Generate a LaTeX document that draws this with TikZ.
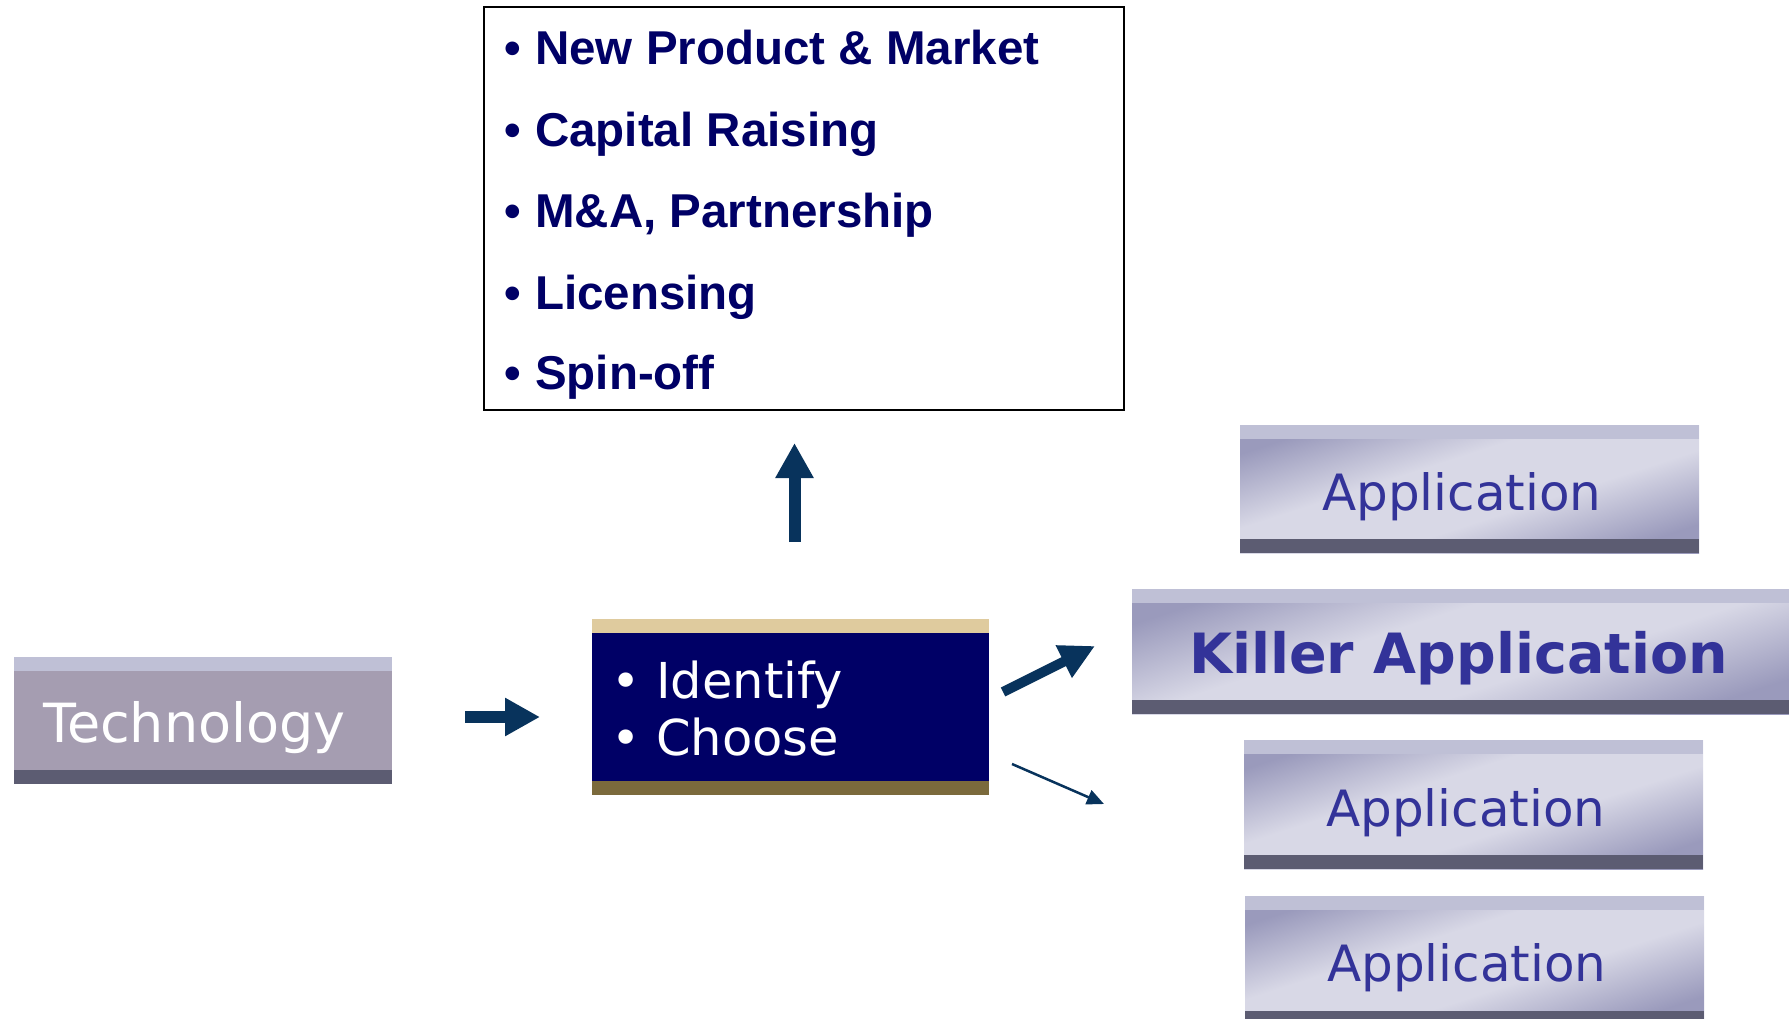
\documentclass[tikz,border=0pt]{standalone}
\usepackage{fontspec}
\setmainfont{DejaVu Sans}
\newfontfamily\listfont{Liberation Sans}
\usetikzlibrary{calc,arrows.meta}
\definecolor{navy}{HTML}{000066}
\definecolor{ink}{HTML}{333399}
\definecolor{arrowblue}{HTML}{08335C}
\definecolor{barlight}{HTML}{BFC0D6}
\definecolor{bardark}{HTML}{5C5C72}
\definecolor{techbody}{HTML}{A59DB1}
\definecolor{tan}{HTML}{DFCB9E}
\definecolor{bronze}{HTML}{7B6A3C}
\definecolor{applight}{HTML}{D8D8E6}
\definecolor{appdark}{HTML}{9A9ABC}
\pgfdeclareverticalshading{appshade}{100bp}{color(0bp)=(appdark); color(25bp)=(appdark); color(42bp)=(applight); color(58bp)=(applight); color(75bp)=(appdark); color(100bp)=(appdark)}
\tikzset{
  panel/.style 2 args={draw=none, inner sep=0pt, path picture={
    \fill[#1] (path picture bounding box.north west) rectangle ([yshift=-13.5pt]path picture bounding box.north east);
    \fill[#2] (path picture bounding box.south west) rectangle ([yshift=14pt]path picture bounding box.south east);}},
  techbox/.style={panel={barlight}{bardark}, fill=techbody},
  selbox/.style={panel={tan}{bronze}, fill=navy},
  appbox/.style={panel={barlight}{bardark}, shading=appshade, shading angle=18},
  optbox/.style={draw=black, line width=1.5pt, fill=white, inner sep=0pt},
  applab/.style={anchor=base west, inner sep=0pt, text=ink, font=\fontsize{50}{60}\selectfont},
  whitelab/.style={anchor=base west, inner sep=0pt, text=white, font=\fontsize{#1}{60}\selectfont},
  item/.style={anchor=base west, inner sep=0pt, text=navy, font=\listfont\bfseries\fontsize{47.5}{50}\selectfont},
  fat/.style={draw=arrowblue, line width=12pt, -{Triangle[width=36pt,length=35pt]}},
  slim/.style={draw=arrowblue, line width=2.5pt, -{Triangle[width=15pt,length=17pt]}},
}
\begin{document}
\begin{tikzpicture}[x=1pt, y=-1pt]
  \useasboundingbox (0,0) rectangle (1789,1019);
  % boxes
  \node[optbox, minimum width=640pt, minimum height=403pt] (opts) at (804,208.5) {};
  \node[techbox, minimum width=378pt, minimum height=127pt] (tech) at (203,720.5) {};
  \node[selbox, minimum width=397pt, minimum height=176pt] (sel) at (790.5,707) {};
  \node[appbox, minimum width=459pt, minimum height=128pt] (app1) at (1469.5,489) {};
  \node[appbox, minimum width=657pt, minimum height=125pt] (killer) at (1460.5,651.5) {};
  \node[appbox, minimum width=459pt, minimum height=129pt] (app2) at (1473.5,804.5) {};
  \node[appbox, minimum width=459pt, minimum height=129pt] (app3) at (1474.5,960.5) {};
  % texts
  \node[whitelab=54] (techlab) at (43,742) {Technology};
  \node[whitelab=49.5] (sel1) at (611,698) {\makebox[45pt][l]{•}Identify};
  \node[whitelab=49.5] (sel2) at (611,755) {\makebox[45pt][l]{•}Choose};
  \node[applab] (app1lab) at (1322,510) {Application};
  \node[applab, font=\bfseries\fontsize{55.5}{60}\selectfont] (killerlab) at (1189,673) {Killer Application};
  \node[applab] (app2lab) at (1326,826) {Application};
  \node[applab] (app3lab) at (1327,981) {Application};
  \node[item] (opt1) at (504,65) {\makebox[31pt][l]{•}New Product \& Market};
  \node[item] (opt2) at (504,147) {\makebox[31pt][l]{•}Capital Raising};
  \node[item] (opt3) at (504,228) {\makebox[31pt][l]{•}M\&A, Partnership};
  \node[item] (opt4) at (504,309) {\makebox[31pt][l]{•}Licensing};
  \node[item] (opt5) at (504,389) {\makebox[31pt][l]{•}Spin-off};
  % arrows
  \coordinate (ta) at (465,717);
  \coordinate (tb) at (540,717);
  \coordinate (ua) at (794.5,542);
  \coordinate (ub) at (794.5,443);
  \coordinate (ka) at (1003,692);
  \coordinate (kb) at (1095,646);
  \coordinate (la) at (1012,764);
  \coordinate (lb) at (1104,804);
  \draw[fat] (ta) -- (tb);
  \draw[fat] (ua) -- (ub);
  \draw[fat, line width=10pt, -{Triangle[width=34pt,length=35pt]}] (ka) -- (kb);
  \draw[slim] (la) -- (lb);
\end{tikzpicture}
\end{document}
